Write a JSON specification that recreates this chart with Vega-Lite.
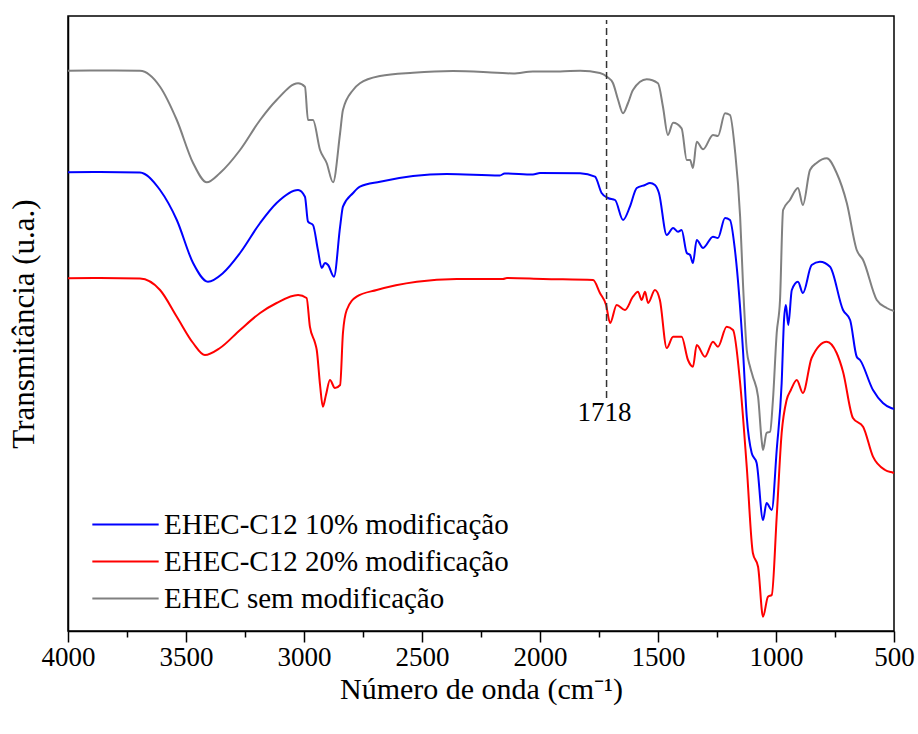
{
  "$schema": "https://vega.github.io/schema/vega-lite/v6.json",
  "width": 826,
  "height": 615,
  "autosize": {"type": "none"},
  "padding": {"left": 68, "top": 16, "right": 24, "bottom": 103},
  "background": "white",
  "config": {
    "view": {"stroke": "black", "strokeWidth": 1.5},
    "font": "Liberation Serif",
    "axis": {"labelFont": "Liberation Serif", "titleFont": "Liberation Serif", "labelColor": "black", "titleColor": "black", "domainColor": "black", "tickColor": "black", "titleFontWeight": "normal", "grid": false, "labelFlush": false, "labelOverlap": false}
  },
  "datasets": {
    "spectra": [
      {"s": "EHEC sem modificação", "x": 4000, "y": 560.3},
      {"s": "EHEC sem modificação", "x": 3864, "y": 560.5},
      {"s": "EHEC sem modificação", "x": 3695, "y": 560.3},
      {"s": "EHEC sem modificação", "x": 3610, "y": 544.3},
      {"s": "EHEC sem modificação", "x": 3539, "y": 511},
      {"s": "EHEC sem modificação", "x": 3470, "y": 468},
      {"s": "EHEC sem modificação", "x": 3412, "y": 448.7},
      {"s": "EHEC sem modificação", "x": 3356, "y": 458},
      {"s": "EHEC sem modificação", "x": 3271, "y": 481},
      {"s": "EHEC sem modificação", "x": 3186, "y": 511},
      {"s": "EHEC sem modificação", "x": 3116, "y": 531},
      {"s": "EHEC sem modificação", "x": 3025, "y": 547.7},
      {"s": "EHEC sem modificação", "x": 2996, "y": 544.3},
      {"s": "EHEC sem modificação", "x": 2983, "y": 511},
      {"s": "EHEC sem modificação", "x": 2962, "y": 511},
      {"s": "EHEC sem modificação", "x": 2932, "y": 481},
      {"s": "EHEC sem modificação", "x": 2904, "y": 468},
      {"s": "EHEC sem modificação", "x": 2877, "y": 448.7},
      {"s": "EHEC sem modificação", "x": 2847, "y": 498},
      {"s": "EHEC sem modificação", "x": 2835, "y": 521},
      {"s": "EHEC sem modificação", "x": 2792, "y": 541},
      {"s": "EHEC sem modificação", "x": 2763, "y": 547.7},
      {"s": "EHEC sem modificação", "x": 2678, "y": 555},
      {"s": "EHEC sem modificação", "x": 2538, "y": 558.3},
      {"s": "EHEC sem modificação", "x": 2369, "y": 560},
      {"s": "EHEC sem modificação", "x": 2182, "y": 558.2},
      {"s": "EHEC sem modificação", "x": 2114, "y": 557.5},
      {"s": "EHEC sem modificação", "x": 2030, "y": 559.5},
      {"s": "EHEC sem modificação", "x": 1915, "y": 559.5},
      {"s": "EHEC sem modificação", "x": 1830, "y": 560.3},
      {"s": "EHEC sem modificação", "x": 1746, "y": 558},
      {"s": "EHEC sem modificação", "x": 1716, "y": 554.3},
      {"s": "EHEC sem modificação", "x": 1691, "y": 548},
      {"s": "EHEC sem modificação", "x": 1669, "y": 531},
      {"s": "EHEC sem modificação", "x": 1648, "y": 517.7},
      {"s": "EHEC sem modificação", "x": 1627, "y": 528},
      {"s": "EHEC sem modificação", "x": 1606, "y": 541},
      {"s": "EHEC sem modificação", "x": 1548, "y": 551.7},
      {"s": "EHEC sem modificação", "x": 1500, "y": 547.7},
      {"s": "EHEC sem modificação", "x": 1479, "y": 524.3},
      {"s": "EHEC sem modificação", "x": 1458, "y": 496},
      {"s": "EHEC sem modificação", "x": 1436, "y": 508.3},
      {"s": "EHEC sem modificação", "x": 1400, "y": 502.7},
      {"s": "EHEC sem modificação", "x": 1378, "y": 471},
      {"s": "EHEC sem modificação", "x": 1364, "y": 471},
      {"s": "EHEC sem modificação", "x": 1352, "y": 463},
      {"s": "EHEC sem modificação", "x": 1336, "y": 489.3},
      {"s": "EHEC sem modificação", "x": 1309, "y": 481.7},
      {"s": "EHEC sem modificação", "x": 1267, "y": 496},
      {"s": "EHEC sem modificação", "x": 1246, "y": 495},
      {"s": "EHEC sem modificação", "x": 1216, "y": 517.7},
      {"s": "EHEC sem modificação", "x": 1195, "y": 516},
      {"s": "EHEC sem modificação", "x": 1174, "y": 481},
      {"s": "EHEC sem modificação", "x": 1152, "y": 414.3},
      {"s": "EHEC sem modificação", "x": 1140, "y": 348},
      {"s": "EHEC sem modificação", "x": 1124, "y": 281},
      {"s": "EHEC sem modificação", "x": 1110, "y": 264.3},
      {"s": "EHEC sem modificação", "x": 1098, "y": 254.3},
      {"s": "EHEC sem modificação", "x": 1076, "y": 234.3},
      {"s": "EHEC sem modificação", "x": 1061, "y": 191},
      {"s": "EHEC sem modificação", "x": 1055, "y": 181},
      {"s": "EHEC sem modificação", "x": 1040, "y": 198},
      {"s": "EHEC sem modificação", "x": 1025, "y": 199.3},
      {"s": "EHEC sem modificação", "x": 1013, "y": 231},
      {"s": "EHEC sem modificação", "x": 997, "y": 298},
      {"s": "EHEC sem modificação", "x": 983, "y": 331},
      {"s": "EHEC sem modificação", "x": 970, "y": 421},
      {"s": "EHEC sem modificação", "x": 941, "y": 431},
      {"s": "EHEC sem modificação", "x": 907, "y": 443},
      {"s": "EHEC sem modificação", "x": 886, "y": 426},
      {"s": "EHEC sem modificação", "x": 856, "y": 461},
      {"s": "EHEC sem modificação", "x": 828, "y": 468},
      {"s": "EHEC sem modificação", "x": 785, "y": 472.7},
      {"s": "EHEC sem modificação", "x": 743, "y": 458},
      {"s": "EHEC sem modificação", "x": 700, "y": 428},
      {"s": "EHEC sem modificação", "x": 658, "y": 381},
      {"s": "EHEC sem modificação", "x": 631, "y": 371},
      {"s": "EHEC sem modificação", "x": 573, "y": 331},
      {"s": "EHEC sem modificação", "x": 531, "y": 323},
      {"s": "EHEC sem modificação", "x": 500, "y": 320},

      {"s": "EHEC-C12 10% modificação", "x": 4000, "y": 458.7},
      {"s": "EHEC-C12 10% modificação", "x": 3864, "y": 459},
      {"s": "EHEC-C12 10% modificação", "x": 3695, "y": 458.5},
      {"s": "EHEC-C12 10% modificação", "x": 3610, "y": 441},
      {"s": "EHEC-C12 10% modificação", "x": 3539, "y": 411},
      {"s": "EHEC-C12 10% modificação", "x": 3470, "y": 368},
      {"s": "EHEC-C12 10% modificação", "x": 3407, "y": 349.3},
      {"s": "EHEC-C12 10% modificação", "x": 3343, "y": 358},
      {"s": "EHEC-C12 10% modificação", "x": 3271, "y": 378},
      {"s": "EHEC-C12 10% modificação", "x": 3186, "y": 408},
      {"s": "EHEC-C12 10% modificação", "x": 3116, "y": 428},
      {"s": "EHEC-C12 10% modificação", "x": 3025, "y": 441},
      {"s": "EHEC-C12 10% modificação", "x": 2996, "y": 434.3},
      {"s": "EHEC-C12 10% modificação", "x": 2983, "y": 409.3},
      {"s": "EHEC-C12 10% modificação", "x": 2962, "y": 406},
      {"s": "EHEC-C12 10% modificação", "x": 2941, "y": 381},
      {"s": "EHEC-C12 10% modificação", "x": 2925, "y": 363},
      {"s": "EHEC-C12 10% modificação", "x": 2911, "y": 368},
      {"s": "EHEC-C12 10% modificação", "x": 2898, "y": 366},
      {"s": "EHEC-C12 10% modificação", "x": 2873, "y": 354.3},
      {"s": "EHEC-C12 10% modificação", "x": 2847, "y": 404.3},
      {"s": "EHEC-C12 10% modificação", "x": 2835, "y": 424.3},
      {"s": "EHEC-C12 10% modificação", "x": 2792, "y": 438},
      {"s": "EHEC-C12 10% modificação", "x": 2763, "y": 444.3},
      {"s": "EHEC-C12 10% modificação", "x": 2678, "y": 449.3},
      {"s": "EHEC-C12 10% modificação", "x": 2538, "y": 455},
      {"s": "EHEC-C12 10% modificação", "x": 2395, "y": 457},
      {"s": "EHEC-C12 10% modificação", "x": 2170, "y": 455.5},
      {"s": "EHEC-C12 10% modificação", "x": 2150, "y": 457.5},
      {"s": "EHEC-C12 10% modificação", "x": 2030, "y": 456.5},
      {"s": "EHEC-C12 10% modificação", "x": 2000, "y": 458},
      {"s": "EHEC-C12 10% modificação", "x": 1830, "y": 457.7},
      {"s": "EHEC-C12 10% modificação", "x": 1767, "y": 454.3},
      {"s": "EHEC-C12 10% modificação", "x": 1739, "y": 438},
      {"s": "EHEC-C12 10% modificação", "x": 1712, "y": 433},
      {"s": "EHEC-C12 10% modificação", "x": 1682, "y": 431},
      {"s": "EHEC-C12 10% modificação", "x": 1648, "y": 411},
      {"s": "EHEC-C12 10% modificação", "x": 1619, "y": 424.3},
      {"s": "EHEC-C12 10% modificação", "x": 1590, "y": 443},
      {"s": "EHEC-C12 10% modificação", "x": 1555, "y": 446},
      {"s": "EHEC-C12 10% modificação", "x": 1534, "y": 448},
      {"s": "EHEC-C12 10% modificação", "x": 1513, "y": 446},
      {"s": "EHEC-C12 10% modificação", "x": 1496, "y": 438},
      {"s": "EHEC-C12 10% modificação", "x": 1463, "y": 396},
      {"s": "EHEC-C12 10% modificação", "x": 1436, "y": 403},
      {"s": "EHEC-C12 10% modificação", "x": 1415, "y": 399.3},
      {"s": "EHEC-C12 10% modificação", "x": 1400, "y": 401},
      {"s": "EHEC-C12 10% modificação", "x": 1378, "y": 378},
      {"s": "EHEC-C12 10% modificação", "x": 1364, "y": 376},
      {"s": "EHEC-C12 10% modificação", "x": 1352, "y": 368},
      {"s": "EHEC-C12 10% modificação", "x": 1336, "y": 391},
      {"s": "EHEC-C12 10% modificação", "x": 1309, "y": 383},
      {"s": "EHEC-C12 10% modificação", "x": 1267, "y": 394.3},
      {"s": "EHEC-C12 10% modificação", "x": 1246, "y": 393},
      {"s": "EHEC-C12 10% modificação", "x": 1216, "y": 413},
      {"s": "EHEC-C12 10% modificação", "x": 1195, "y": 411},
      {"s": "EHEC-C12 10% modificação", "x": 1174, "y": 381},
      {"s": "EHEC-C12 10% modificação", "x": 1140, "y": 281},
      {"s": "EHEC-C12 10% modificação", "x": 1124, "y": 214.3},
      {"s": "EHEC-C12 10% modificação", "x": 1103, "y": 178},
      {"s": "EHEC-C12 10% modificação", "x": 1082, "y": 168},
      {"s": "EHEC-C12 10% modificação", "x": 1055, "y": 111},
      {"s": "EHEC-C12 10% modificação", "x": 1040, "y": 128},
      {"s": "EHEC-C12 10% modificação", "x": 1018, "y": 121},
      {"s": "EHEC-C12 10% modificação", "x": 997, "y": 181},
      {"s": "EHEC-C12 10% modificação", "x": 976, "y": 248},
      {"s": "EHEC-C12 10% modificação", "x": 966, "y": 311},
      {"s": "EHEC-C12 10% modificação", "x": 958, "y": 326},
      {"s": "EHEC-C12 10% modificação", "x": 948, "y": 306},
      {"s": "EHEC-C12 10% modificação", "x": 933, "y": 341},
      {"s": "EHEC-C12 10% modificação", "x": 907, "y": 349.3},
      {"s": "EHEC-C12 10% modificação", "x": 886, "y": 338},
      {"s": "EHEC-C12 10% modificação", "x": 849, "y": 366},
      {"s": "EHEC-C12 10% modificação", "x": 814, "y": 369.3},
      {"s": "EHEC-C12 10% modificação", "x": 771, "y": 364.3},
      {"s": "EHEC-C12 10% modificação", "x": 716, "y": 321},
      {"s": "EHEC-C12 10% modificação", "x": 686, "y": 311},
      {"s": "EHEC-C12 10% modificação", "x": 658, "y": 274.3},
      {"s": "EHEC-C12 10% modificação", "x": 644, "y": 271},
      {"s": "EHEC-C12 10% modificação", "x": 589, "y": 241},
      {"s": "EHEC-C12 10% modificação", "x": 547, "y": 228},
      {"s": "EHEC-C12 10% modificação", "x": 510, "y": 222.7},
      {"s": "EHEC-C12 10% modificação", "x": 500, "y": 222},

      {"s": "EHEC-C12 20% modificação", "x": 4000, "y": 352.7},
      {"s": "EHEC-C12 20% modificação", "x": 3864, "y": 353},
      {"s": "EHEC-C12 20% modificação", "x": 3695, "y": 352.5},
      {"s": "EHEC-C12 20% modificação", "x": 3610, "y": 341},
      {"s": "EHEC-C12 20% modificação", "x": 3539, "y": 314.3},
      {"s": "EHEC-C12 20% modificação", "x": 3470, "y": 288},
      {"s": "EHEC-C12 20% modificação", "x": 3420, "y": 276},
      {"s": "EHEC-C12 20% modificação", "x": 3356, "y": 283},
      {"s": "EHEC-C12 20% modificação", "x": 3271, "y": 301},
      {"s": "EHEC-C12 20% modificação", "x": 3186, "y": 318},
      {"s": "EHEC-C12 20% modificação", "x": 3116, "y": 328},
      {"s": "EHEC-C12 20% modificação", "x": 3025, "y": 336},
      {"s": "EHEC-C12 20% modificação", "x": 2989, "y": 333},
      {"s": "EHEC-C12 20% modificação", "x": 2975, "y": 304.3},
      {"s": "EHEC-C12 20% modificação", "x": 2953, "y": 288},
      {"s": "EHEC-C12 20% modificação", "x": 2946, "y": 281},
      {"s": "EHEC-C12 20% modificação", "x": 2932, "y": 246},
      {"s": "EHEC-C12 20% modificação", "x": 2920, "y": 224.3},
      {"s": "EHEC-C12 20% modificação", "x": 2907, "y": 236},
      {"s": "EHEC-C12 20% modificação", "x": 2890, "y": 251},
      {"s": "EHEC-C12 20% modificação", "x": 2869, "y": 243},
      {"s": "EHEC-C12 20% modificação", "x": 2847, "y": 246},
      {"s": "EHEC-C12 20% modificação", "x": 2835, "y": 298},
      {"s": "EHEC-C12 20% modificação", "x": 2819, "y": 321},
      {"s": "EHEC-C12 20% modificação", "x": 2777, "y": 334.3},
      {"s": "EHEC-C12 20% modificação", "x": 2692, "y": 341},
      {"s": "EHEC-C12 20% modificação", "x": 2522, "y": 349.3},
      {"s": "EHEC-C12 20% modificação", "x": 2353, "y": 352},
      {"s": "EHEC-C12 20% modificação", "x": 2157, "y": 352},
      {"s": "EHEC-C12 20% modificação", "x": 2140, "y": 353},
      {"s": "EHEC-C12 20% modificação", "x": 1987, "y": 352},
      {"s": "EHEC-C12 20% modificação", "x": 1775, "y": 351},
      {"s": "EHEC-C12 20% modificação", "x": 1746, "y": 338},
      {"s": "EHEC-C12 20% modificação", "x": 1720, "y": 326},
      {"s": "EHEC-C12 20% modificação", "x": 1703, "y": 308},
      {"s": "EHEC-C12 20% modificação", "x": 1675, "y": 326},
      {"s": "EHEC-C12 20% modificação", "x": 1640, "y": 321},
      {"s": "EHEC-C12 20% modificação", "x": 1606, "y": 334.3},
      {"s": "EHEC-C12 20% modificação", "x": 1585, "y": 339.3},
      {"s": "EHEC-C12 20% modificação", "x": 1569, "y": 331},
      {"s": "EHEC-C12 20% modificação", "x": 1555, "y": 339.3},
      {"s": "EHEC-C12 20% modificação", "x": 1542, "y": 328},
      {"s": "EHEC-C12 20% modificação", "x": 1513, "y": 341},
      {"s": "EHEC-C12 20% modificação", "x": 1492, "y": 331},
      {"s": "EHEC-C12 20% modificação", "x": 1463, "y": 283},
      {"s": "EHEC-C12 20% modificação", "x": 1436, "y": 294.3},
      {"s": "EHEC-C12 20% modificação", "x": 1400, "y": 294.3},
      {"s": "EHEC-C12 20% modificação", "x": 1373, "y": 271},
      {"s": "EHEC-C12 20% modificação", "x": 1352, "y": 264.3},
      {"s": "EHEC-C12 20% modificação", "x": 1336, "y": 286},
      {"s": "EHEC-C12 20% modificação", "x": 1301, "y": 274.3},
      {"s": "EHEC-C12 20% modificação", "x": 1267, "y": 289.3},
      {"s": "EHEC-C12 20% modificação", "x": 1246, "y": 284.3},
      {"s": "EHEC-C12 20% modificação", "x": 1209, "y": 304.3},
      {"s": "EHEC-C12 20% modificação", "x": 1182, "y": 301},
      {"s": "EHEC-C12 20% modificação", "x": 1152, "y": 248},
      {"s": "EHEC-C12 20% modificação", "x": 1124, "y": 164.3},
      {"s": "EHEC-C12 20% modificação", "x": 1098, "y": 78},
      {"s": "EHEC-C12 20% modificação", "x": 1076, "y": 64.3},
      {"s": "EHEC-C12 20% modificação", "x": 1055, "y": 14.3},
      {"s": "EHEC-C12 20% modificação", "x": 1034, "y": 34.3},
      {"s": "EHEC-C12 20% modificação", "x": 1018, "y": 36},
      {"s": "EHEC-C12 20% modificação", "x": 997, "y": 114.3},
      {"s": "EHEC-C12 20% modificação", "x": 976, "y": 198},
      {"s": "EHEC-C12 20% modificação", "x": 955, "y": 231},
      {"s": "EHEC-C12 20% modificação", "x": 937, "y": 241},
      {"s": "EHEC-C12 20% modificação", "x": 912, "y": 251},
      {"s": "EHEC-C12 20% modificação", "x": 886, "y": 238},
      {"s": "EHEC-C12 20% modificação", "x": 849, "y": 273},
      {"s": "EHEC-C12 20% modificação", "x": 785, "y": 289.3},
      {"s": "EHEC-C12 20% modificação", "x": 743, "y": 278},
      {"s": "EHEC-C12 20% modificação", "x": 716, "y": 259.3},
      {"s": "EHEC-C12 20% modificação", "x": 674, "y": 213},
      {"s": "EHEC-C12 20% modificação", "x": 631, "y": 204.3},
      {"s": "EHEC-C12 20% modificação", "x": 589, "y": 174.3},
      {"s": "EHEC-C12 20% modificação", "x": 538, "y": 161},
      {"s": "EHEC-C12 20% modificação", "x": 504, "y": 158.3},
      {"s": "EHEC-C12 20% modificação", "x": 500, "y": 158}
    ],
    "marker": [{"x": 1718, "y": 233, "y2": 611, "label": "1718", "ly": 218}]
  },
  "layer": [
    {
      "data": {"name": "spectra"},
      "mark": {"type": "line", "strokeWidth": 2, "interpolate": "monotone"},
      "encoding": {
        "x": {"field": "x", "type": "quantitative", "sort": null,
          "scale": {"domain": [4000, 500], "nice": false, "zero": false},
          "axis": {"orient": "bottom", "values": [4000, 3500, 3000, 2500, 2000, 1500, 1000, 500], "format": "d", "tickSize": 11, "tickWidth": 1.5, "domainWidth": 1.5, "labelFontSize": 27, "labelPadding": 2, "labelFlush": false, "title": "Número de onda (cm⁻¹)", "titleFontSize": 30, "titlePadding": 4}},
        "y": {"field": "y", "type": "quantitative",
          "scale": {"domain": [0, 615], "nice": false, "zero": false},
          "axis": {"ticks": false, "labels": false, "domainWidth": 1.5, "title": "Transmitância (u.a.)", "titleFontSize": 31, "titlePadding": 28}},
        "color": {"field": "s", "type": "nominal",
          "scale": {"domain": ["EHEC-C12 10% modificação", "EHEC-C12 20% modificação", "EHEC sem modificação"], "range": ["#0000ff", "#ff0000", "#808080"]},
          "legend": {"orient": "none", "legendX": 23, "legendY": 494, "title": null, "symbolType": "stroke", "symbolSize": 4400, "symbolStrokeWidth": 2, "clipHeight": 29, "labelFont": "Liberation Serif", "labelFontSize": 29, "labelColor": "black", "labelOffset": 4, "rowPadding": 7, "padding": 0, "labelLimit": 600}},
        "order": {"field": "x", "sort": "descending"}
      }
    },
    {
      "data": {"name": "marker"},
      "mark": {"type": "rule", "strokeDash": [7, 4], "strokeWidth": 1.5, "color": "#333333"},
      "encoding": {
        "x": {"field": "x", "type": "quantitative",
          "axis": {"orient": "bottom", "values": [3750, 3250, 2750, 2250, 1750, 1250, 750], "labels": false, "domain": false, "tickSize": 6, "tickWidth": 1.5, "title": null}},
        "y": {"field": "y", "type": "quantitative"},
        "y2": {"field": "y2"}
      }
    },
    {
      "data": {"name": "marker"},
      "mark": {"type": "text", "fontSize": 27, "font": "Liberation Serif", "color": "black", "baseline": "middle", "align": "center", "dx": -2},
      "encoding": {
        "x": {"field": "x", "type": "quantitative", "axis": null},
        "y": {"field": "ly", "type": "quantitative"},
        "text": {"field": "label"}
      }
    }
  ],
  "resolve": {"axis": {"x": "independent"}}
}
